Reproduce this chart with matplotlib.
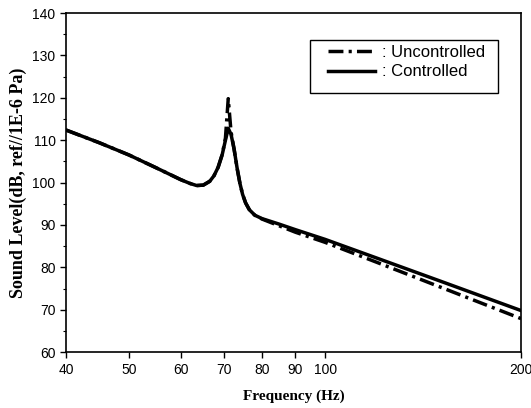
import numpy as np
import matplotlib
matplotlib.use('Agg')
import matplotlib.pyplot as plt
from matplotlib.patches import Rectangle
from matplotlib.ticker import FixedLocator, NullFormatter, NullLocator, MultipleLocator

# frequency points (Hz)
freq = [40, 45, 50, 55, 60, 62, 63.5, 65, 66.5, 67.5, 68.5, 69.5, 70.3, 71, 71.7,
        72.5, 73.3, 74, 74.7, 75.5, 76.5, 78, 80, 85, 90, 100, 120, 150, 200]

# sound level (dB) - uncontrolled / controlled
uncontrolled = [112.4, 109.4, 106.5, 103.5, 100.7, 99.8, 99.3, 99.4, 100.3, 101.6, 103.6,
                106.6, 110.5, 119.8, 112.0, 107.8, 103.2, 99.8, 97.2, 95.2, 93.6, 92.3,
                91.4, 89.8, 88.3, 85.9, 81.2, 75.4, 67.9]
controlled = [112.4, 109.4, 106.5, 103.5, 100.7, 99.8, 99.3, 99.4, 100.3, 101.6, 103.6,
              106.6, 110.0, 112.8, 111.4, 107.8, 103.2, 99.8, 97.2, 95.2, 93.6, 92.3,
              91.5, 90.2, 88.9, 86.6, 82.2, 76.8, 69.8]

xticks = [40, 50, 60, 70, 80, 90, 100, 200]
yticks = [60, 70, 80, 90, 100, 110, 120, 130, 140]

fig = plt.figure(figsize=(5.31, 4.08), dpi=100)
ax = fig.add_axes([0.1243, 0.137, 0.857, 0.831])

ax.plot(freq, uncontrolled, color='black', lw=2.5, dashes=(4.3, 1.5, 0.9, 1.5),
        label=': Uncontrolled')
ax.plot(freq, controlled, color='black', lw=2.5, label=': Controlled')

ax.set_xscale('log')
ax.set_xlim(40, 200)
ax.set_ylim(60, 140)

ax.xaxis.set_major_locator(FixedLocator(xticks))
ax.xaxis.set_minor_locator(NullLocator())
ax.set_xticklabels([str(t) for t in xticks])
ax.xaxis.set_minor_formatter(NullFormatter())
ax.set_yticks(yticks)
ax.yaxis.set_minor_locator(MultipleLocator(5))

ax.tick_params(axis='both', which='major', direction='out', length=4, width=1,
               labelsize=10)
ax.tick_params(axis='y', which='minor', direction='out', length=2.5, width=0.8)
for lab in ax.get_xticklabels() + ax.get_yticklabels():
    lab.set_fontfamily('Liberation Sans')
for s in ax.spines.values():
    s.set_linewidth(1.2)

ax.set_xlabel('Frequency (Hz)', fontfamily='Liberation Serif', fontsize=11,
              fontweight='bold', labelpad=9)
ax.set_ylabel('Sound Level(dB, ref//1E-6 Pa)', fontfamily='Liberation Serif',
              fontsize=13, fontweight='bold', labelpad=4)

# legend without its own frame, box drawn separately (wider than the text)
leg = ax.legend(loc='upper left', bbox_to_anchor=(0.576, 0.905), frameon=False,
                handlelength=2.8, handletextpad=0.45, borderpad=0, borderaxespad=0,
                labelspacing=0.25, prop={'family': 'Liberation Sans', 'size': 12})
ax.add_patch(Rectangle((0.536, 0.764), 0.413, 0.156, transform=ax.transAxes,
                       fill=False, edgecolor='black', lw=1, zorder=5))

fig.savefig('out.png', dpi=100)
